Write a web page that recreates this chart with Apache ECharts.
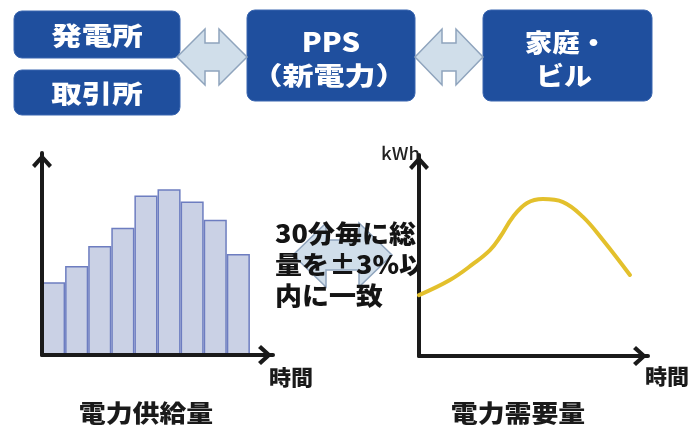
<!DOCTYPE html>
<html>
<head>
<meta charset="utf-8">
<script src="https://cdn.jsdelivr.net/npm/echarts@6/dist/echarts.min.js"></script>
<style>
  html, body { margin: 0; padding: 0; background: #ffffff; }
  #chart { width: 689px; height: 428px; }
</style>
</head>
<body>
<div id="chart"></div>
<script>
// Supply side: half-hour slots (last slot left empty so the axis runs on past the bars)
const supplySlots = ['1', '2', '3', '4', '5', '6', '7', '8', '9', ''];
const supplyValues = [36, 44, 54, 63, 79, 82, 76, 67, 50];

// Demand side: time (0-100) vs kWh (0-100)
const demandTime = [0, 13.5, 23.6, 31.0, 35.4, 41.0, 47.2, 54.1, 62.9, 71.6, 80.3, 92.1];
const demandValues = [30.3, 37.8, 45.8, 52.7, 59.2, 69.2, 76.1, 78.1, 76.6, 69.2, 57.7, 40.3];

const FONT = '"Noto Sans CJK JP", "Noto Sans", sans-serif';
const BOX = '#1f4f9e';
const ARROW_FILL = '#d0deea';
const ARROW_LINE = '#8fa4bd';
const AXIS = '#1a1a1a';

const chevron = 'path://M10,0 L20,11 L17,14 L10,6 L3,14 L0,11 Z';
const axisLineStyle = {
  show: true,
  symbol: ['none', chevron],
  symbolSize: [20, 16],
  symbolOffset: [0, -8],
  lineStyle: { color: AXIS, width: 4 }
};

function box(x, y, w, h) {
  return { type: 'rect', z: 1, shape: { x, y, width: w, height: h, r: 8 },
           style: { fill: BOX, stroke: '#3a66b0', lineWidth: 1 } };
}
// bold caption; glyphs are drawn slightly widened
function label(x, y, text, size, color, sx) {
  return { type: 'text', z: 4, x, y, scaleX: sx || 1.15,
    style: { text, fill: color, font: '900 ' + size + 'px ' + FONT,
             textAlign: 'center', textVerticalAlign: 'middle' } };
}
// double-headed block arrow between xl and xr, centred on cy
function dblArrow(xl, xr, cy, headLen, headHalf, shaftHalf, z) {
  const a = xl + headLen, b = xr - headLen;
  return { type: 'polygon', z: z || 1,
    shape: { points: [
      [xl, cy], [a, cy - headHalf], [a, cy - shaftHalf], [b, cy - shaftHalf], [b, cy - headHalf],
      [xr, cy], [b, cy + headHalf], [b, cy + shaftHalf], [a, cy + shaftHalf], [a, cy + headHalf]
    ] },
    style: { fill: ARROW_FILL, stroke: ARROW_LINE, lineWidth: 1.5 } };
}

const chart = echarts.init(document.getElementById('chart'), null, { renderer: 'canvas' });

chart.setOption({
  backgroundColor: '#ffffff',
  animation: false,
  grid: [
    { left: 42, top: 153, width: 231, height: 202 },
    { left: 419, top: 155, width: 229, height: 201 }
  ],
  xAxis: [
    { gridIndex: 0, type: 'category', data: supplySlots, boundaryGap: true, z: 10,
      axisLine: axisLineStyle, axisTick: { show: false }, axisLabel: { show: false } },
    { gridIndex: 1, type: 'value', min: 0, max: 100, z: 10,
      axisLine: axisLineStyle, axisTick: { show: false }, axisLabel: { show: false },
      splitLine: { show: false } }
  ],
  yAxis: [
    { gridIndex: 0, type: 'value', min: 0, max: 100, z: 10,
      axisLine: axisLineStyle, axisTick: { show: false }, axisLabel: { show: false },
      splitLine: { show: false } },
    { gridIndex: 1, type: 'value', min: 0, max: 100, z: 10,
      axisLine: axisLineStyle, axisTick: { show: false }, axisLabel: { show: false },
      splitLine: { show: false } }
  ],
  series: [
    { type: 'bar', xAxisIndex: 0, yAxisIndex: 0, data: supplyValues,
      barCategoryGap: 0, z: 5,
      itemStyle: { color: '#cad1e5', borderColor: '#6d7dc0', borderWidth: 1.5 } },
    { type: 'line', xAxisIndex: 1, yAxisIndex: 1, z: 11,
      data: demandTime.map((t, i) => [t, demandValues[i]]),
      smooth: 0.4, symbol: 'none',
      lineStyle: { color: '#e3c02c', width: 4, cap: 'round' } }
  ],
  graphic: [
    // top flow: sources -> PPS -> consumers
    box(14, 11, 166, 47),
    box(14, 70, 166, 45),
    box(247, 10, 168, 91),
    box(483, 10, 169, 91),
    dblArrow(177, 247, 57, 28, 28, 14),
    dblArrow(415, 483, 57, 27, 28, 14),
    label(97, 35, '発電所', 25, '#ffffff', 1.22),
    label(97, 93, '取引所', 25, '#ffffff', 1.22),
    label(331, 42, 'PPS', 26, '#ffffff', 1.12),
    label(329, 75, '（新電力）', 25, '#ffffff', 1.24),
    label(566, 42, '家庭・', 25, '#ffffff', 1.1),
    label(564, 75, 'ビル', 25, '#ffffff', 1.12),

    // balancing note between the two charts
    dblArrow(293, 392, 255, 33, 32, 15, 1),
    { type: 'text', z: 2, x: 275, y: 218, scaleX: 1.08,
      style: { text: '30分毎に総\n量を±3%以\n内に一致', fill: '#141414',
               font: '900 25px ' + FONT, lineHeight: 31,
               textAlign: 'left', textVerticalAlign: 'top' } },
    { type: 'rect', z: 3, shape: { x: 420, y: 214, width: 26, height: 64 },
      style: { fill: '#ffffff' } },

    // axis captions
    { type: 'text', z: 4, x: 381, y: 154, scaleX: 1.1,
      style: { text: 'kWh', fill: '#222222', font: '500 17px ' + FONT,
               textAlign: 'left', textVerticalAlign: 'middle' } },
    label(291, 377, '時間', 21, '#1a1a1a', 1.05),
    label(667, 376, '時間', 21, '#1a1a1a', 1.05),
    label(146, 413, '電力供給量', 24, '#1a1a1a', 1.12),
    label(518, 413, '電力需要量', 24, '#1a1a1a', 1.12)
  ]
});
</script>
</body>
</html>
